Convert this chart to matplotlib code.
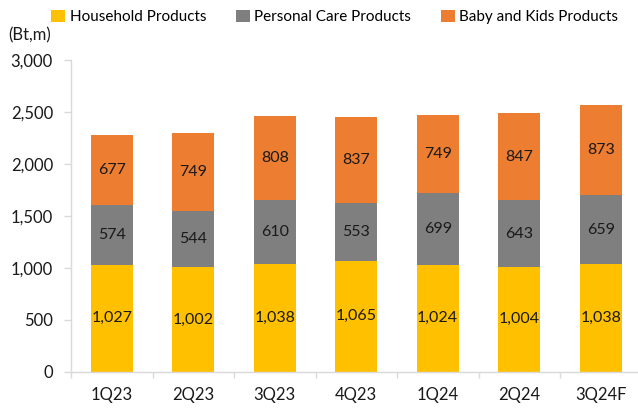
import matplotlib.pyplot as plt
from matplotlib.patches import Patch
from matplotlib.ticker import FuncFormatter

quarters = ["1Q23", "2Q23", "3Q23", "4Q23", "1Q24", "2Q24", "3Q24F"]
household = [1027, 1002, 1038, 1065, 1024, 1004, 1038]
personal = [574, 544, 610, 553, 699, 643, 659]
baby = [677, 749, 808, 837, 749, 847, 873]

series_names = ["Household Products", "Personal Care Products", "Baby and Kids Products"]
colors = ["#FFC000", "#7F7F7F", "#ED7D31"]

plt.rcParams['font.family'] = ['Lato', 'DejaVu Sans']
plt.rcParams['font.size'] = 12

fig = plt.figure(figsize=(6.38, 4.08), dpi=100)
ax = fig.add_axes([71 / 638, 36.5 / 408, 570.5 / 638, 311.5 / 408])

x = list(range(len(quarters)))
bottom = [0] * len(quarters)
for vals, col in zip([household, personal, baby], colors):
    ax.bar(x, vals, width=0.52, bottom=bottom, color=col, zorder=2)
    for xi, b, v in zip(x, bottom, vals):
        ax.text(xi, b + v / 2, f"{v:,}", ha="center", va="center",
                fontsize=11.5, color="#1a1a1a", zorder=3)
    bottom = [b + v for b, v in zip(bottom, vals)]

ax.set_xlim(-0.5, 6.5)
ax.set_ylim(0, 3000)
ax.set_yticks(range(0, 3001, 500))
ax.yaxis.set_major_formatter(FuncFormatter(lambda v, p: f"{int(v):,}"))

ax.set_xticks(x)
ax.set_xticklabels(quarters)
ax.set_xticks([i - 0.5 for i in range(len(quarters) + 1)], minor=True)
ax.tick_params(axis="x", which="major", length=0, pad=11, labelsize=12, labelcolor="#1a1a1a")
ax.tick_params(axis="x", which="minor", length=4.5, color="#D9D9D9", width=1)
ax.tick_params(axis="y", length=5, color="#D9D9D9", width=1, pad=8, labelsize=12, labelcolor="#1a1a1a")

for s in ["top", "right"]:
    ax.spines[s].set_visible(False)
for s in ["left", "bottom"]:
    ax.spines[s].set_color("#D9D9D9")
    ax.spines[s].set_linewidth(1)

fig.text(8 / 638, 1 - 35 / 408, "(Bt,m)", ha="left", va="center", fontsize=12, color="#1a1a1a")

handles = [Patch(facecolor=c, edgecolor="none") for c in colors]
fig.legend(handles, series_names, loc="center", bbox_to_anchor=(0.525, 1 - 17 / 408),
           ncol=3, frameon=False, fontsize=11, handlelength=0.9, handleheight=0.85,
           handletextpad=0.3, columnspacing=1.95, borderpad=0)

fig.savefig("out.png", dpi=100)
